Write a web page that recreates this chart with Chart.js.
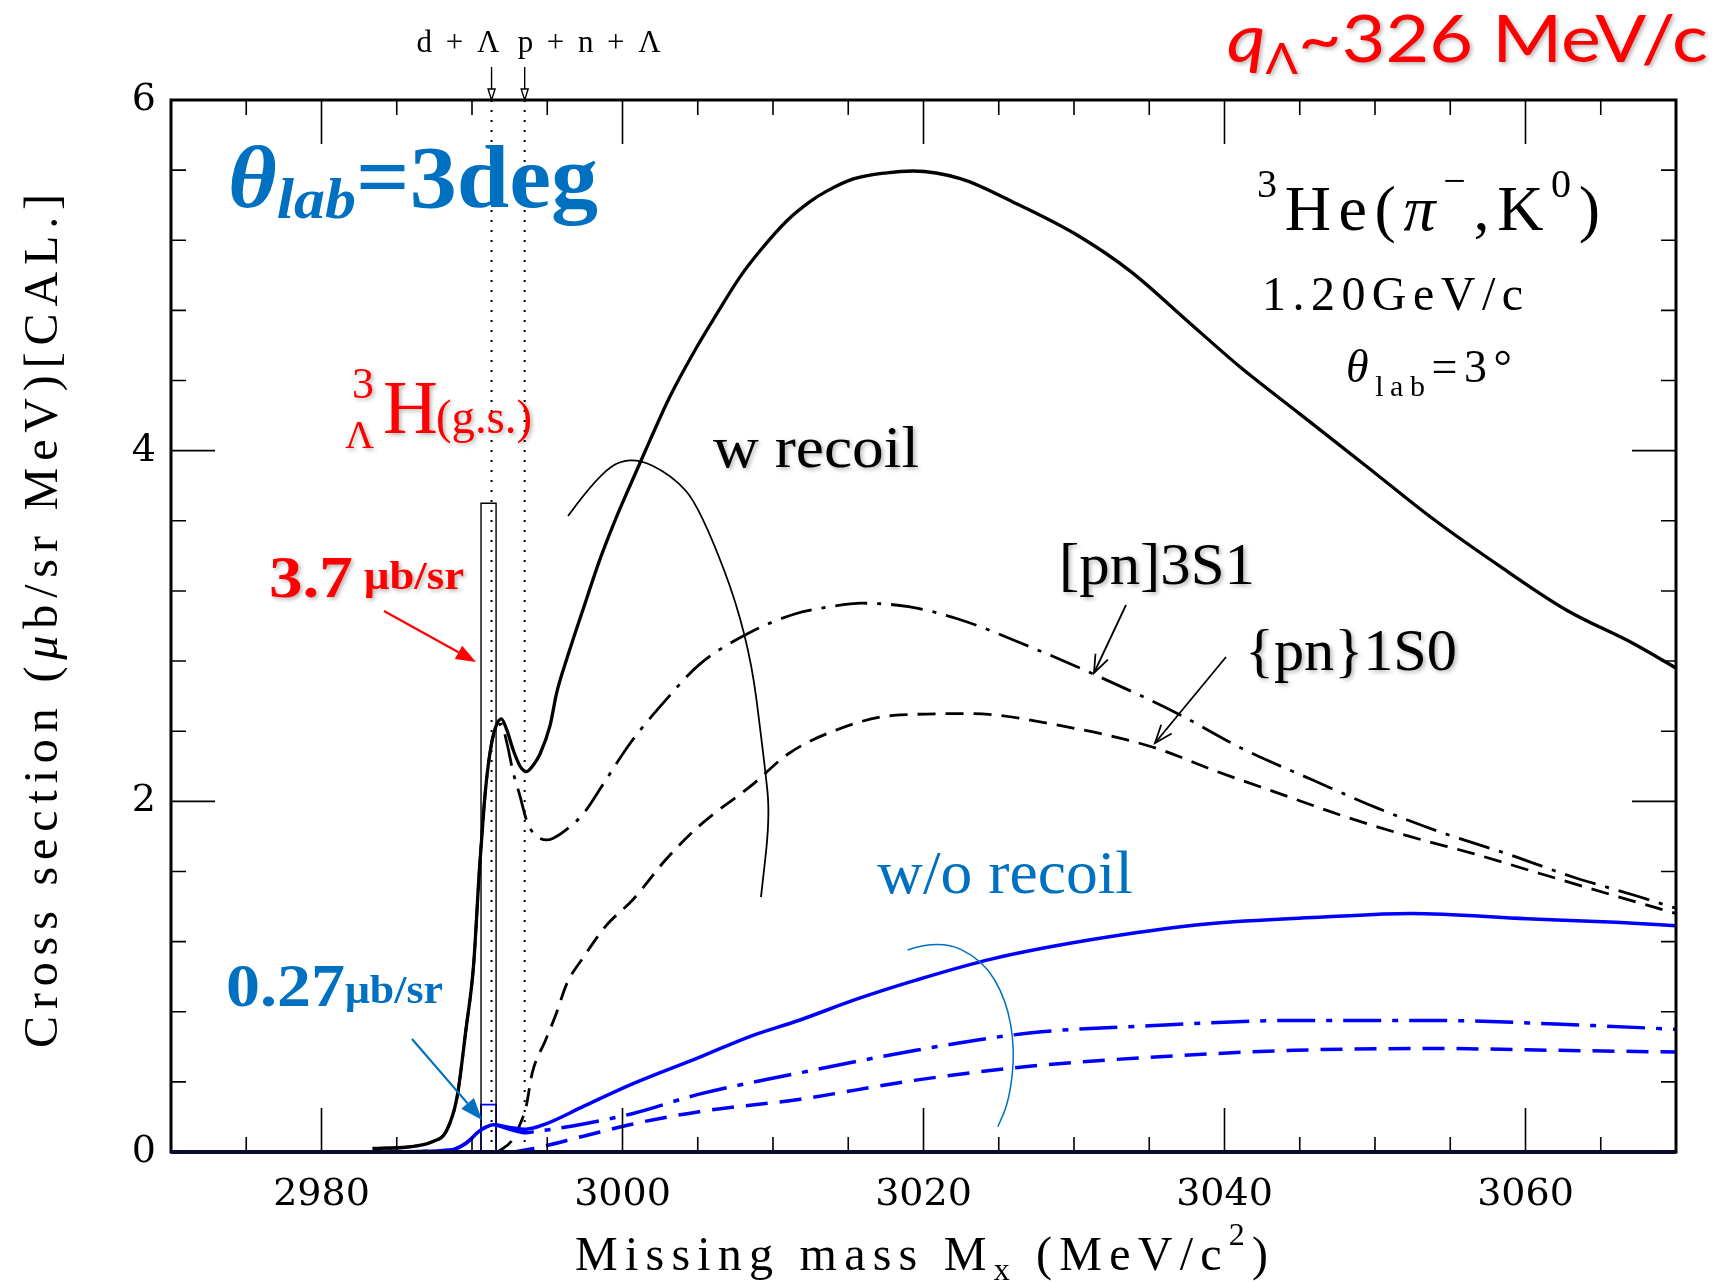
<!DOCTYPE html>
<html>
<head>
<meta charset="utf-8">
<script src="https://cdn.jsdelivr.net/npm/chart.js@4.4.1/dist/chart.umd.min.js"></script>
<style>
  html, body { margin: 0; padding: 0; background: #fff; }
  #c { display: block; }
</style>
</head>
<body>
<canvas id="c" width="1712" height="1282"></canvas>
<script>
// Missing mass (MeV/c^2) and cross section (ub/sr MeV), with recoil
const mxTotal = [2983.4, 2985.9, 2987.4, 2988.3, 2989.0, 2989.6, 2990.1, 2990.5, 2990.8, 2991.0, 2991.3, 2991.6, 2991.95, 2992.3, 2992.75, 2993.2, 2993.63, 2994.1, 2994.52, 2995.18, 2995.63, 2996.29, 2997.4, 2998.5, 2999.4, 3000.7, 3001.83, 3003.16, 3004.93, 3006.26, 3007.8, 3009.14, 3010.91, 3012.46, 3013.57, 3015.34, 3017.56, 3019.3, 3022.5, 3025.9, 3030.2, 3033.8, 3037.4, 3041.0, 3045.0, 3049.45, 3053.87, 3058.31, 3062.74, 3067.16, 3070];
const csTotal = [0.02, 0.03, 0.06, 0.12, 0.31, 0.70, 1.06, 1.62, 1.97, 2.15, 2.33, 2.43, 2.47, 2.41, 2.29, 2.20, 2.17, 2.21, 2.27, 2.43, 2.62, 2.81, 3.10, 3.38, 3.58, 3.84, 4.06, 4.31, 4.59, 4.78, 4.99, 5.14, 5.31, 5.42, 5.48, 5.55, 5.585, 5.595, 5.55, 5.42, 5.23, 5.02, 4.75, 4.48, 4.21, 3.91, 3.61, 3.34, 3.09, 2.90, 2.76];

const mx3S1 = [2983.4, 2985.9, 2987.4, 2988.3, 2989.0, 2989.6, 2990.1, 2990.5, 2990.8, 2991.0, 2991.3, 2991.6, 2991.95, 2992.3, 2992.75, 2993.19, 2993.63, 2994.07, 2994.96, 2995.4, 2996.29, 2997.4, 2998.73, 3000.5, 3002.9, 3005.1, 3008.4, 3011.5, 3013.8, 3015.9, 3019.0, 3022.3, 3027.4, 3031.7, 3036.9, 3041.2, 3045.9, 3050.2, 3054.5, 3058.8, 3063.1, 3067.4, 3070];
const cs3S1 = [0.02, 0.03, 0.06, 0.12, 0.31, 0.70, 1.06, 1.62, 1.97, 2.15, 2.33, 2.42, 2.44, 2.34, 2.16, 2.03, 1.89, 1.82, 1.78, 1.79, 1.84, 1.93, 2.10, 2.33, 2.58, 2.78, 2.96, 3.07, 3.11, 3.13, 3.11, 3.04, 2.87, 2.71, 2.50, 2.30, 2.12, 1.96, 1.82, 1.70, 1.57, 1.46, 1.39];

const mx1S0 = [2991.7, 2992.6, 2993.2, 2993.6, 2994.0, 2994.9, 2995.6, 2996.3, 2997.4, 2998.9, 3000.7, 3002.9, 3005.1, 3008.7, 3011.0, 3013.7, 3018.0, 3023.1, 3029.2, 3035.2, 3039.5, 3043.8, 3048.1, 3052.3, 3056.6, 3060.9, 3065.2, 3070];
const cs1S0 = [0.0, 0.06, 0.16, 0.26, 0.45, 0.64, 0.79, 0.96, 1.11, 1.29, 1.44, 1.67, 1.86, 2.10, 2.27, 2.39, 2.49, 2.50, 2.43, 2.31, 2.17, 2.04, 1.91, 1.80, 1.70, 1.59, 1.48, 1.36];

// without recoil
const mxNoRecoil = [2983.4, 2988.5, 2989.6, 2990.5, 2991.0, 2991.4, 2992.5, 2993.6, 2994.9, 2997.4, 3000.7, 3005.1, 3008.5, 3011.7, 3015.5, 3019.5, 3024.5, 3031.1, 3038.8, 3046.6, 3052.4, 3060.1, 3066.0, 3070];
const csNoRecoil = [0.0, 0.01, 0.05, 0.12, 0.145, 0.155, 0.14, 0.13, 0.16, 0.26, 0.39, 0.54, 0.66, 0.75, 0.87, 0.98, 1.10, 1.21, 1.30, 1.34, 1.36, 1.33, 1.31, 1.29];

const mx3S1NoRecoil = [2983.4, 2988.5, 2989.6, 2990.5, 2991.0, 2991.4, 2992.5, 2993.6, 2994.1, 2997.4, 3000.7, 3005.1, 3011.7, 3019.5, 3027.2, 3035.0, 3044.6, 3054.3, 3062.0, 3070];
const cs3S1NoRecoil = [0.0, 0.01, 0.05, 0.12, 0.145, 0.155, 0.13, 0.11, 0.115, 0.16, 0.22, 0.33, 0.45, 0.58, 0.68, 0.72, 0.75, 0.75, 0.73, 0.70];

const mx1S0NoRecoil = [2992.7, 2994.1, 2997.4, 3000.7, 3005.1, 3011.7, 3019.5, 3027.2, 3035.0, 3044.6, 3054.3, 3062.0, 3070];
const cs1S0NoRecoil = [0.0, 0.02, 0.09, 0.16, 0.23, 0.30, 0.41, 0.49, 0.54, 0.58, 0.59, 0.58, 0.57];

// hypertriton ground state, 1 MeV bin
const boundBin = [2990.6, 2991.6];
const boundCs = 3.7;
const boundCsNoRecoil = 0.27;

// breakup thresholds
const thresholdMx = [2991.3, 2993.5];
const thresholdLabels = ['d+Λ', 'p+n+Λ'];

// bracket arcs grouping the curve families
const recoilArcMx = [2996.38, 2998.5, 3000.63, 3003.29, 3005.15, 3008.34, 3009.47, 3009.8, 3009.2];
const recoilArcCs = [3.627, 3.878, 3.970, 3.861, 3.679, 2.960, 2.196, 1.911, 1.454];
const noRecoilArcMx = [3018.94, 3021.07, 3023.95, 3025.51, 3026.08, 3025.71, 3024.94];
const noRecoilArcCs = [1.152, 1.213, 1.095, 0.867, 0.582, 0.297, 0.144];

const xRange = [2970, 3070];
const yRange = [0, 6];
const xMajor = 20, xMinor = 5;
const yMajor = 2, yMinor = 0.4;

const SERIF = '"Liberation Serif", "Times New Roman", serif';
const TICKFONT = '"DejaVu Serif", serif';
const PPT = 'Lato, "Open Sans", sans-serif';
const RED = '#ff0000';
const PPT_BLUE = '#0070c0';
const BLUE = '#0000ff';

const pts = (xs, ys) => xs.map((v, i) => ({x: v, y: ys[i]}));

function curve(xs, ys, color, width, dash) {
  return {
    data: pts(xs, ys),
    borderColor: color,
    borderWidth: width,
    borderDash: dash || [],
    pointRadius: 0,
    fill: false,
    cubicInterpolationMode: 'monotone'
  };
}
function outline(data, color, width, dash) {
  return {data, borderColor: color, borderWidth: width, borderDash: dash || [], pointRadius: 0, fill: false, tension: 0};
}

const datasets = [
  curve(mxNoRecoil, csNoRecoil, BLUE, 3.5),
  curve(mx3S1NoRecoil, cs3S1NoRecoil, BLUE, 3.5, [38, 11, 6, 11]),
  curve(mx1S0NoRecoil, cs1S0NoRecoil, BLUE, 3.5, [22, 12]),
  curve(mxTotal, csTotal, '#000', 3.3),
  curve(mx3S1, cs3S1, '#000', 2.8, [32, 10, 4, 10]),
  curve(mx1S0, cs1S0, '#000', 2.8, [18, 10]),
  outline([{x: boundBin[0], y: 0}, {x: boundBin[0], y: boundCs}, {x: boundBin[1], y: boundCs}, {x: boundBin[1], y: 0}], '#000', 1.4),
  outline([{x: boundBin[0], y: 0}, {x: boundBin[0], y: boundCsNoRecoil}, {x: boundBin[1], y: boundCsNoRecoil}, {x: boundBin[1], y: 0}], BLUE, 1.6),
  ...thresholdMx.map(m => outline([{x: m, y: yRange[0]}, {x: m, y: yRange[1]}], '#000', 2, [2, 8]))
];

// text made of runs with different fonts / offsets; optional fit to a width
function drawRuns(ctx, runs, x, y, opt) {
  opt = opt || {};
  let natural = 0, nChars = 0;
  for (const r of runs) {
    ctx.font = r.font;
    natural += ctx.measureText(r.t).width;
    nChars += [...r.t].length;
  }
  let sx = 1, gap = 0;
  if (opt.width && opt.spread) gap = (opt.width - natural) / Math.max(1, nChars - 1);
  else if (opt.width) sx = opt.width / natural;
  ctx.save();
  ctx.translate(x, y);
  if (opt.rotate) ctx.rotate(opt.rotate);
  ctx.scale(sx, 1);
  ctx.textAlign = 'left';
  ctx.textBaseline = 'alphabetic';
  if (opt.shadow) {
    ctx.shadowColor = 'rgba(0,0,0,0.3)';
    ctx.shadowBlur = 4;
    ctx.shadowOffsetX = 2;
    ctx.shadowOffsetY = 2;
  }
  let cx = 0;
  for (const r of runs) {
    ctx.font = r.font;
    ctx.fillStyle = r.color || opt.color || '#000';
    if (gap) {
      for (const ch of r.t) {
        ctx.fillText(ch, cx, r.dy || 0);
        cx += ctx.measureText(ch).width + gap;
      }
    } else {
      ctx.fillText(r.t, cx, r.dy || 0);
      cx += ctx.measureText(r.t).width;
    }
  }
  ctx.restore();
}

function arrow(ctx, x1, y1, x2, y2, color, lw, head, open) {
  const a = Math.atan2(y2 - y1, x2 - x1);
  const hw = head * 0.38;
  const bx = x2 - head * Math.cos(a), by = y2 - head * Math.sin(a);
  const lx = bx + hw * Math.sin(a), ly = by - hw * Math.cos(a);
  const rx = bx - hw * Math.sin(a), ry = by + hw * Math.cos(a);
  ctx.save();
  ctx.strokeStyle = color;
  ctx.fillStyle = color;
  ctx.lineWidth = lw;
  ctx.beginPath();
  ctx.moveTo(x1, y1);
  ctx.lineTo(open ? x2 : bx, open ? y2 : by);
  ctx.stroke();
  ctx.beginPath();
  if (open) {
    ctx.moveTo(lx, ly); ctx.lineTo(x2, y2); ctx.lineTo(rx, ry);
    ctx.stroke();
  } else {
    ctx.moveTo(x2, y2); ctx.lineTo(lx, ly); ctx.lineTo(rx, ry); ctx.closePath();
    ctx.fill();
  }
  ctx.restore();
}

function smoothPath(ctx, p) {
  ctx.moveTo(p[0][0], p[0][1]);
  for (let i = 1; i < p.length - 1; i++) {
    ctx.quadraticCurveTo(p[i][0], p[i][1], (p[i][0] + p[i + 1][0]) / 2, (p[i][1] + p[i + 1][1]) / 2);
  }
  ctx.lineTo(p[p.length - 1][0], p[p.length - 1][1]);
}

const decor = {
  id: 'decor',
  afterDraw(chart) {
    const {ctx, chartArea: a, scales: {x, y}} = chart;
    ctx.save();

    // tick marks pointing into the frame, mirrored on all sides
    ctx.strokeStyle = '#000';
    ctx.lineWidth = 1.6;
    ctx.beginPath();
    for (const t of x.ticks) {
      const px = x.getPixelForValue(t.value);
      if (px < a.left + 2 || px > a.right - 2) continue;
      const len = t.label ? 44 : 15;
      ctx.moveTo(px, a.bottom); ctx.lineTo(px, a.bottom - len);
      ctx.moveTo(px, a.top); ctx.lineTo(px, a.top + len);
    }
    for (const t of y.ticks) {
      const py = y.getPixelForValue(t.value);
      if (py < a.top + 2 || py > a.bottom - 2) continue;
      const len = t.label ? 44 : 15;
      ctx.moveTo(a.left, py); ctx.lineTo(a.left + len, py);
      ctx.moveTo(a.right, py); ctx.lineTo(a.right - len, py);
    }
    ctx.stroke();
    ctx.lineWidth = 3;
    ctx.strokeRect(a.left, a.top, a.width, a.height);
    ctx.lineWidth = 4;
    ctx.strokeStyle = '#0a0a30';
    ctx.beginPath(); ctx.moveTo(a.left, a.bottom); ctx.lineTo(a.right, a.bottom); ctx.stroke();

    // threshold markers above the frame
    ctx.strokeStyle = '#000';
    ctx.lineWidth = 1.4;
    thresholdMx.forEach(m => {
      const px = x.getPixelForValue(m);
      ctx.beginPath(); ctx.moveTo(px, a.top - 33); ctx.lineTo(px, a.top - 11); ctx.stroke();
      ctx.beginPath(); ctx.moveTo(px - 3.5, a.top - 11); ctx.lineTo(px + 3.5, a.top - 11); ctx.lineTo(px, a.top); ctx.closePath(); ctx.stroke();
    });
    const p0 = x.getPixelForValue(thresholdMx[0]);
    const p1 = x.getPixelForValue(thresholdMx[1]);
    drawRuns(ctx, [{t: thresholdLabels[0], font: `31px ${SERIF}`}], p0 + 8 - 83, 52, {width: 83, spread: true});
    drawRuns(ctx, [{t: thresholdLabels[1], font: `31px ${SERIF}`}], p1 - 7, 52, {width: 143, spread: true});

    // bracket arcs
    const toPx = (xs, ys) => xs.map((v, i) => [x.getPixelForValue(v), y.getPixelForValue(ys[i])]);
    ctx.strokeStyle = '#000';
    ctx.lineWidth = 1.8;
    ctx.beginPath(); smoothPath(ctx, toPx(recoilArcMx, recoilArcCs)); ctx.stroke();
    ctx.strokeStyle = PPT_BLUE;
    ctx.lineWidth = 1.5;
    ctx.beginPath(); smoothPath(ctx, toPx(noRecoilArcMx, noRecoilArcCs)); ctx.stroke();

    // axis titles
    drawRuns(ctx, [
      {t: 'Missing mass M', font: `48px ${SERIF}`},
      {t: 'x', font: `32px ${SERIF}`, dy: 10},
      {t: ' (MeV/c', font: `48px ${SERIF}`},
      {t: '2', font: `32px ${SERIF}`, dy: -25},
      {t: ')', font: `48px ${SERIF}`}
    ], 575, 1270, {width: 693, spread: true});
    drawRuns(ctx, [
      {t: 'Cross section (', font: `48px ${SERIF}`},
      {t: 'μ', font: `italic 48px ${SERIF}`},
      {t: 'b/sr MeV)[CAL.]', font: `48px ${SERIF}`}
    ], 57, 1048, {width: 854, spread: true, rotate: -Math.PI / 2});

    // reaction and kinematics
    drawRuns(ctx, [
      {t: '3', font: `40px ${SERIF}`, dy: -33},
      {t: 'He(', font: `64px ${SERIF}`},
      {t: 'π', font: `italic 64px ${SERIF}`},
      {t: '−', font: `40px ${SERIF}`, dy: -36},
      {t: ',K', font: `64px ${SERIF}`},
      {t: '0', font: `40px ${SERIF}`, dy: -33},
      {t: ')', font: `64px ${SERIF}`}
    ], 1257, 230, {width: 343, spread: true});
    drawRuns(ctx, [{t: '1.20GeV/c', font: `48px ${SERIF}`}], 1262, 310, {width: 261, spread: true});
    drawRuns(ctx, [
      {t: 'θ', font: `italic 46px ${SERIF}`},
      {t: 'lab', font: `30px ${SERIF}`, dy: 14},
      {t: '=3°', font: `46px ${SERIF}`}
    ], 1346, 382, {width: 166, spread: true});

    // slide annotations
    drawRuns(ctx, [
      {t: 'q', font: `italic 66px ${PPT}`},
      {t: 'Λ', font: `42px ${PPT}`, dy: 12},
      {t: '~326 MeV/c', font: `66px ${PPT}`}
    ], 1227, 62, {width: 481, color: RED, shadow: true});
    drawRuns(ctx, [
      {t: 'θ', font: `italic bold 88px ${SERIF}`},
      {t: 'lab', font: `italic bold 58px ${SERIF}`, dy: 11},
      {t: '=3deg', font: `bold 88px ${SERIF}`}
    ], 228, 207, {width: 370, color: PPT_BLUE});

    drawRuns(ctx, [{t: '3', font: `44px ${SERIF}`}], 352, 398, {color: RED, shadow: true});
    drawRuns(ctx, [{t: 'Λ', font: `40px ${SERIF}`}], 345, 448, {color: RED, shadow: true});
    drawRuns(ctx, [{t: 'H', font: `76px ${SERIF}`}], 383, 433, {color: RED, shadow: true});
    drawRuns(ctx, [{t: '(g.s.)', font: `48px ${SERIF}`}], 436, 433, {width: 96, color: RED, shadow: true});

    drawRuns(ctx, [
      {t: '3.7', font: `bold 60px ${SERIF}`},
      {t: ' μb/sr', font: `bold 40px ${SERIF}`, dy: -8}
    ], 269, 597, {width: 195, color: RED, shadow: true});
    arrow(ctx, 384, 611, 476, 662, RED, 2.2, 20, false);

    drawRuns(ctx, [
      {t: '0.27', font: `bold 62px ${SERIF}`},
      {t: 'μb/sr', font: `bold 40px ${SERIF}`, dy: -3}
    ], 226, 1006, {width: 217, color: PPT_BLUE});
    arrow(ctx, 412, 1039, 482, 1120, PPT_BLUE, 2.2, 22, false);

    drawRuns(ctx, [{t: 'w recoil', font: `60px ${SERIF}`}], 713, 467, {width: 206, shadow: true});
    drawRuns(ctx, [{t: '[pn]3S1', font: `60px ${SERIF}`}], 1059, 584, {width: 196, shadow: true});
    drawRuns(ctx, [{t: '{pn}1S0', font: `60px ${SERIF}`}], 1245, 670, {width: 212, shadow: true});
    drawRuns(ctx, [{t: 'w/o recoil', font: `62px ${SERIF}`}], 877, 893, {width: 256, color: PPT_BLUE});
    arrow(ctx, 1126, 605, 1094, 673, '#000', 1.8, 18, true);
    arrow(ctx, 1226, 657, 1155, 743, '#000', 1.8, 18, true);

    ctx.restore();
  }
};

const isMultiple = (v, step) => Math.abs(v / step - Math.round(v / step)) < 1e-6;

new Chart(document.getElementById('c'), {
  type: 'line',
  data: {datasets},
  options: {
    responsive: false,
    animation: false,
    devicePixelRatio: 1,
    layout: {padding: {left: 0, top: 100, right: 36, bottom: 0}},
    plugins: {legend: {display: false}, tooltip: {enabled: false}},
    scales: {
      x: {
        type: 'linear',
        min: xRange[0],
        max: xRange[1],
        grid: {display: false, drawTicks: false},
        border: {display: false},
        ticks: {
          stepSize: xMinor,
          autoSkip: false,
          maxRotation: 0,
          padding: 20,
          color: '#000',
          font: {family: TICKFONT, size: 38},
          callback: v => isMultiple(v, xMajor) ? String(Math.round(v)) : ''
        },
        afterFit: s => { s.height = 130; }
      },
      y: {
        type: 'linear',
        min: yRange[0],
        max: yRange[1],
        grid: {display: false, drawTicks: false},
        border: {display: false},
        ticks: {
          stepSize: yMinor,
          autoSkip: false,
          padding: 15,
          color: '#000',
          font: {family: TICKFONT, size: 38},
          callback: v => isMultiple(v, yMajor) ? String(Math.round(v)) : ''
        },
        afterFit: s => { s.width = 171; }
      }
    }
  },
  plugins: [decor]
});
</script>
</body>
</html>
